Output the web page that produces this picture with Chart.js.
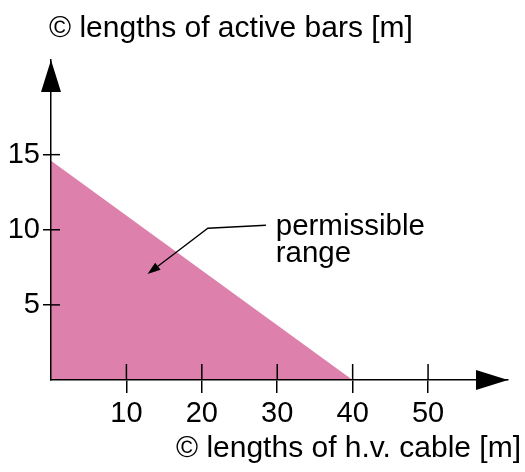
<!DOCTYPE html>
<html>
<head>
<meta charset="utf-8">
<script src="https://cdn.jsdelivr.net/npm/chart.js@4/dist/chart.umd.min.js"></script>
<style>
html,body{margin:0;padding:0;background:#fff;}
#wrap{width:525px;height:472px;}
</style>
</head>
<body>
<div id="wrap"><canvas id="c" width="525" height="472"></canvas></div>
<script>
// Data
const xTickValues = [10, 20, 30, 40, 50];
const yTickValues = [5, 10, 15];
const regionX = [0, 40];
const regionY = [14.6, 0];
const yTitle = '\u00A9 lengths of active bars [m]';
const xTitle = '\u00A9 lengths of h.v. cable [m]';
const noteLines = ['permissible', 'range'];

const FONT = '"Liberation Sans", Arial, sans-serif';
const INK = '#000';

const axisDecor = {
  id: 'axisDecor',
  afterDraw(chart) {
    const {ctx, chartArea: a, scales: {x, y}} = chart;
    ctx.save();
    ctx.strokeStyle = INK; ctx.fillStyle = INK; ctx.lineWidth = 1.5;
    // inner tick parts
    x.ticks.forEach(t => {
      const px = x.getPixelForValue(t.value);
      ctx.beginPath(); ctx.moveTo(px, a.bottom); ctx.lineTo(px, a.bottom - 16); ctx.stroke();
    });
    y.ticks.forEach(t => {
      const py = y.getPixelForValue(t.value);
      ctx.beginPath(); ctx.moveTo(a.left, py); ctx.lineTo(a.left + 9, py); ctx.stroke();
    });
    // arrowheads
    ctx.beginPath();
    ctx.moveTo(a.left, a.top); ctx.lineTo(a.left - 10, a.top + 32); ctx.lineTo(a.left + 10, a.top + 32);
    ctx.closePath(); ctx.fill();
    ctx.beginPath();
    ctx.moveTo(a.right, a.bottom); ctx.lineTo(a.right - 32, a.bottom - 10); ctx.lineTo(a.right - 32, a.bottom + 10);
    ctx.closePath(); ctx.fill();
    // axis titles
    ctx.font = '30px ' + FONT;
    ctx.textBaseline = 'alphabetic';
    ctx.textAlign = 'left';
    ctx.fillText(yTitle, a.left - 2, 37);
    ctx.textAlign = 'right';
    ctx.fillText(xTitle, 521, 457);
    // annotation (data units via scales)
    const tip = [x.getPixelForValue(12.8), y.getPixelForValue(7.05)];
    const elbow = [x.getPixelForValue(20.8), y.getPixelForValue(10.1)];
    const start = [x.getPixelForValue(28.5), y.getPixelForValue(10.3)];
    ctx.lineWidth = 1.3;
    ctx.beginPath();
    ctx.moveTo(start[0], start[1]); ctx.lineTo(elbow[0], elbow[1]);
    const ang = Math.atan2(tip[1] - elbow[1], tip[0] - elbow[0]);
    const L = 13, W = 4.5;
    const bx = tip[0] - L * Math.cos(ang), by = tip[1] - L * Math.sin(ang);
    ctx.lineTo(bx, by); ctx.stroke();
    ctx.beginPath();
    ctx.moveTo(tip[0], tip[1]);
    ctx.lineTo(bx + W * Math.sin(ang), by - W * Math.cos(ang));
    ctx.lineTo(bx - W * Math.sin(ang), by + W * Math.cos(ang));
    ctx.closePath(); ctx.fill();
    ctx.textAlign = 'left';
    ctx.font = '29.5px ' + FONT;
    const tx = x.getPixelForValue(29.8);
    ctx.fillText(noteLines[0], tx, 235);
    ctx.fillText(noteLines[1], tx, 262);
    ctx.restore();
  }
};

new Chart(document.getElementById('c'), {
  type: 'line',
  data: {
    datasets: [{
      data: regionX.map((v, i) => ({x: v, y: regionY[i]})),
      fill: 'origin',
      backgroundColor: '#de80ac',
      borderWidth: 0,
      pointRadius: 0,
      tension: 0
    }]
  },
  options: {
    responsive: false,
    animation: false,
    events: [],
    layout: {padding: {top: 60, right: 17, left: 0, bottom: 0}},
    plugins: {legend: {display: false}, tooltip: {enabled: false}, title: {display: false}},
    scales: {
      x: {
        type: 'linear', min: 0, max: 60.6,
        afterBuildTicks: s => { s.ticks = xTickValues.map(v => ({value: v})); },
        afterFit: s => { s.height = 92; },
        ticks: {color: INK, font: {family: FONT, size: 29}, padding: 4, maxRotation: 0, autoSkip: false},
        grid: {drawOnChartArea: false, drawTicks: true, tickLength: 13, color: INK, lineWidth: 1.5, z: 1},
        border: {display: true, color: INK, width: 1.5, z: 1}
      },
      y: {
        type: 'linear', min: 0, max: 21.3,
        afterBuildTicks: s => { s.ticks = yTickValues.map(v => ({value: v})); },
        afterFit: s => { s.width = 51; },
        ticks: {color: INK, font: {family: FONT, size: 29}, padding: 3, autoSkip: false},
        grid: {drawOnChartArea: false, drawTicks: true, tickLength: 8, color: INK, lineWidth: 1.5, z: 1},
        border: {display: true, color: INK, width: 1.5, z: 1}
      }
    }
  },
  plugins: [axisDecor]
});
</script>
</body>
</html>
